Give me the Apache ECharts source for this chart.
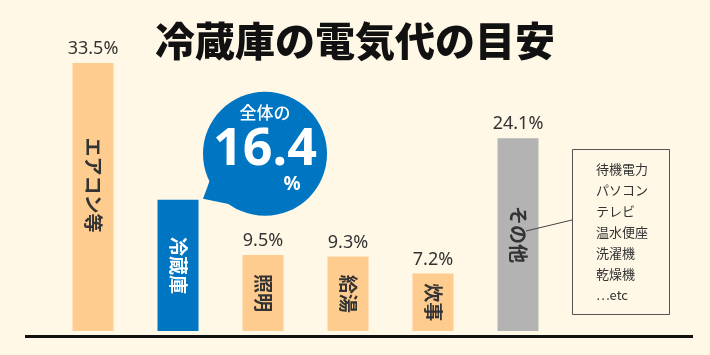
<!DOCTYPE html>
<html><head><meta charset="utf-8">
<script src="https://cdn.jsdelivr.net/npm/echarts@6/dist/echarts.min.js"></script>
<style>html,body{margin:0;padding:0;background:#FFF8E7;}#c{width:710px;height:355px;}</style>
</head><body><div id="c"></div>
<script>
const categories = ['エアコン等', '冷蔵庫', '照明', '給湯', '炊事', 'その他'];
const shares = [33.5, 16.4, 9.5, 9.3, 7.2, 24.1];
const otherItems = ['待機電力', 'パソコン', 'テレビ', '温水便座', '洗濯機', '乾燥機', '…etc'];
const titleText = '冷蔵庫の電気代の目安';
const highlightIndex = 1;

const ORANGE = '#FFCC8F', BLUE = '#0075C2', GRAY = '#B3B3B3', BG = '#FFF8E7';
const JP = '"Noto Sans CJK JP", "Noto Sans", sans-serif';

function colorFor(i) {
  if (i === highlightIndex) return BLUE;
  if (i === categories.length - 1) return GRAY;
  return ORANGE;
}

const chart = echarts.init(document.getElementById('c'), null, {renderer: 'canvas'});
const option = {
  backgroundColor: BG,
  animation: false,
  title: {
    text: titleText, left: 'center', top: 16,
    textStyle: {fontFamily: JP, fontWeight: 900, fontSize: 40, color: '#111'}
  },
  grid: {left: 50.5, width: 510, top: 11, bottom: 24},
  xAxis: {type: 'category', data: categories, show: false},
  yAxis: {type: 'value', min: 0, max: 40, show: false},
  series: [
    {
      type: 'bar', barWidth: 41,
      data: shares.map((v, i) => ({
        value: v,
        itemStyle: {color: colorFor(i)},
        label: {color: i === highlightIndex ? '#fff' : '#333', offset: i === 0 ? [-12, 0] : [0, 0]}
      })),
      label: {
        show: true, position: 'inside', rotate: -90, formatter: '{b}',
        fontFamily: JP, fontWeight: 'bold', fontSize: 19
      },
      z: 2
    },
    {
      type: 'bar', barWidth: 41, barGap: '-100%',
      data: shares.map((v, i) => ({
        value: v,
        label: {show: i !== highlightIndex}
      })),
      itemStyle: {color: 'rgba(0,0,0,0)'},
      label: {
        show: true, position: 'top', distance: 5,
        formatter: p => p.value.toFixed(1) + '%',
        fontFamily: '"Noto Sans", sans-serif', fontSize: 18, color: '#333'
      },
      z: 3
    }
  ]
};
chart.setOption(option);

// annotations anchored to bars
const hiTop = chart.convertToPixel({gridIndex: 0}, [highlightIndex, shares[highlightIndex]]);
const lastIdx = categories.length - 1;
const otherMid = chart.convertToPixel({gridIndex: 0}, [lastIdx, shares[lastIdx] / 2]);
const base = chart.convertToPixel({gridIndex: 0}, [0, 0]);

const cx = hiTop[0] + 87, cy = hiTop[1] - 46, r = 62;
const boxX = 572, boxY = 149, boxW = 97, boxH = 165;

const graphics = [
  {type: 'line', shape: {x1: 25, y1: base[1] + 5.5, x2: 693, y2: base[1] + 5.5},
   style: {stroke: '#111', lineWidth: 3}, z: 10},
  {type: 'polygon', shape: {points: [[hiTop[0] + 25, hiTop[1] - 1], [cx - 52, cy + 18], [cx - 28, cy + 52]]},
   style: {fill: BLUE}, z: 10},
  {type: 'circle', shape: {cx: cx, cy: cy, r: r}, style: {fill: BLUE}, z: 10},
  {type: 'text', x: cx, y: cy - 41, style: {text: '全体の', fill: '#fff', font: '500 17px ' + JP, align: 'center', verticalAlign: 'middle'}, z: 11},
  {type: 'text', x: cx, y: cy - 4, style: {text: String(shares[highlightIndex]), fill: '#fff', font: 'bold 52px "Noto Sans", sans-serif', align: 'center', verticalAlign: 'middle'}, z: 11},
  {type: 'text', x: cx + 27, y: cy + 31, style: {text: '%', fill: '#fff', font: 'bold 19px "Noto Sans", sans-serif', align: 'center', verticalAlign: 'middle'}, z: 11},
  {type: 'rect', shape: {x: boxX + 0.5, y: boxY + 0.5, width: boxW, height: boxH},
   style: {fill: BG, stroke: '#555', lineWidth: 1}, z: 10},
  {type: 'line', shape: {x1: otherMid[0] + 8, y1: 231, x2: boxX, y2: 220},
   style: {stroke: '#444', lineWidth: 1}, z: 11}
];
otherItems.forEach((t, i) => {
  graphics.push({type: 'text', x: 596, y: 169 + i * 21,
    style: {text: t, fill: '#333', font: '13px ' + JP, verticalAlign: 'middle'}, z: 11});
});
chart.setOption({graphic: graphics});
</script>
</body></html>
